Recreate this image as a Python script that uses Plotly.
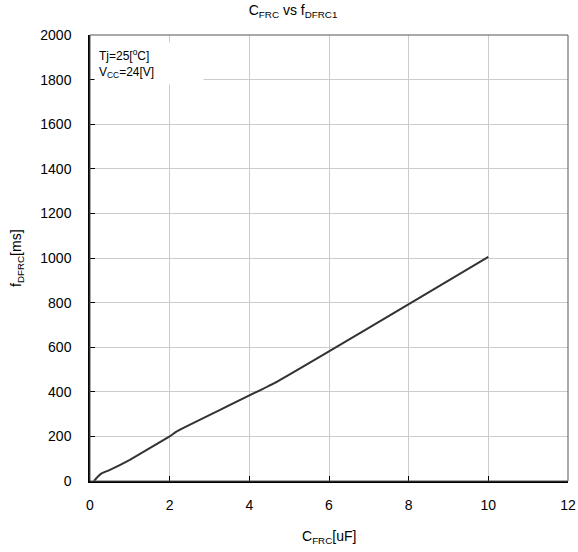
import plotly.graph_objects as go

c_frc = [0.1, 0.2, 0.3, 0.5, 1.0, 2.0, 2.2, 4.7, 10.0]
f_dfrc = [0, 20, 35, 50, 95, 200, 225, 446, 1005]

x_ticks = [0, 2, 4, 6, 8, 10, 12]
y_ticks = [0, 200, 400, 600, 800, 1000, 1200, 1400, 1600, 1800, 2000]

FONT = "Liberation Sans, Arial, sans-serif"

fig = go.Figure()
fig.add_trace(go.Scatter(x=c_frc, y=f_dfrc, mode="lines",
                         line=dict(color="#333333", width=2, shape="spline", smoothing=0.3),
                         showlegend=False, hoverinfo="skip"))

fig.update_layout(
    width=578, height=552,
    margin=dict(l=90, r=10, t=35, b=71, autoexpand=False),
    paper_bgcolor="white", plot_bgcolor="white",
    font=dict(family=FONT, size=14, color="black"),
    title=dict(text="C<sub>FRC</sub> vs f<sub>DFRC1</sub>", x=0.507, xref="container", xanchor="center",
               y=0.99, yanchor="top", font=dict(size=14, family=FONT, color="black")),
    xaxis=dict(range=[0, 12], tickvals=x_ticks, showgrid=True, gridcolor="#cccccc", gridwidth=1,
               zeroline=False, showline=True, linecolor="black", linewidth=1.5,
               ticks="inside", ticklen=5, tickcolor="black", automargin=False,
               ticklabelstandoff=10),
    yaxis=dict(range=[0, 2000], tickvals=y_ticks, showgrid=True, gridcolor="#cccccc", gridwidth=1,
               zeroline=False, showline=True, linecolor="black", linewidth=1.5,
               ticks="inside", ticklen=5, tickcolor="black", automargin=False,
               ticklabelstandoff=14),
    shapes=[dict(type="rect", xref="paper", yref="paper", x0=0, x1=1, y0=0, y1=1,
                 line=dict(color="#555555", width=1), layer="above")],
    annotations=[
        dict(text="Tj=25[<sup>o</sup>C]<br>V<sub>CC</sub>=24[V]", xref="paper", yref="paper",
             x=0.008, y=0.985, xanchor="left", yanchor="top", align="left", showarrow=False,
             font=dict(size=12, family=FONT, color="black"), bgcolor="white",
             borderpad=4, width=100),
        dict(text="f<sub>DFRC</sub>[ms]", xref="paper", yref="paper", x=0, y=0.5,
             xanchor="center", yanchor="middle", textangle=-90, xshift=-73, showarrow=False,
             font=dict(size=14, family=FONT, color="black")),
        dict(text="C<sub>FRC</sub>[uF]", xref="paper", yref="paper", x=0.5, y=0,
             xanchor="center", yanchor="middle", yshift=-56, showarrow=False,
             font=dict(size=14, family=FONT, color="black")),
    ],
)

fig.write_html("out.html", config={"displayModeBar": False},
               post_script="document.body.style.margin='0';document.body.style.overflow='hidden';")
